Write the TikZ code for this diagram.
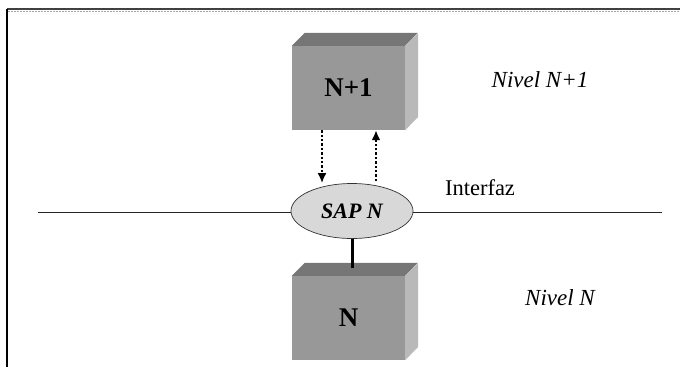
\documentclass[tikz,border=0pt]{standalone}
\usepackage{fontspec}
\setmainfont{Liberation Serif}
\usetikzlibrary{shapes.geometric,arrows.meta}
\definecolor{frontgray}{RGB}{152,152,152}
\definecolor{topgray}{RGB}{118,118,118}
\definecolor{sidegray}{RGB}{185,185,185}
\definecolor{sapgray}{RGB}{216,216,216}
\tikzset{
  front/.style={rectangle, fill=frontgray, minimum width=113pt, minimum height=84pt, inner sep=0pt, font=\fontsize{27}{29}\selectfont\bfseries},
  sapnode/.style={ellipse, draw=black!80, line width=0.7pt, fill=sapgray, minimum width=122pt, minimum height=55pt, inner sep=0pt, font=\fontsize{22}{24}\selectfont\bfseries\itshape},
  lbl/.style={font=\fontsize{23}{25}\selectfont\itshape, inner sep=0pt},
  lblup/.style={font=\fontsize{22.5}{25}\selectfont, inner sep=0pt},
  dotarrow/.style={line width=2.6pt, dash pattern=on 2.4pt off 2pt, -{Latex[length=10pt,width=9pt]}},
  topface/.style={fill=topgray},
  sideface/.style={fill=sidegray}
}
\begin{document}
\begin{tikzpicture}[x=1pt,y=-1pt]
\useasboundingbox (0,0) rectangle (680,367);
% frame
\draw[black!75, line width=1.4pt] (7,9) -- (680,9);
\draw[black!35, line width=1.2pt, dash pattern=on 1.5pt off 1.5pt] (8,11.5) -- (680,11.5);
\draw[black, line width=1.6pt] (7,9) -- (7,367);
% interface line
\coordinate (L) at (38,212);
\coordinate (R) at (662,212);
\draw[black!85, line width=1pt] (L) -- (R);
% upper box
\node[front] (up) at (348.5,88) {N+1};
\fill[topface] (up.north west) -- ++(13,-13) -- ++(113,0) -- (up.north east) -- cycle;
\fill[sideface] (up.north east) -- ++(13,-13) -- ++(0,84) -- (up.south east) -- cycle;
% lower box
\node[front] (down) at (348.5,318) {N};
\fill[topface] (down.north west) -- ++(13,-13) -- ++(113,0) -- (down.north east) -- cycle;
\fill[sideface] (down.north east) -- ++(13,-13) -- ++(0,84) -- (down.south east) -- cycle;
% SAP
\node[sapnode] (sap) at (352,211) {SAP N};
\coordinate (dtop) at (sap.south |- 0,268);
% connector end points
\coordinate (a1) at ([xshift=-26.5pt]up.south);
\coordinate (a2) at ([xshift=27.5pt]up.south);
\coordinate (s1) at (a1 |- sap.north);
\coordinate (s2) at ([yshift=2pt]a2 |- sap.north);
% connectors
\draw[dotarrow] (a1) -- (s1);
\draw[dotarrow] (s2) -- (a2);
\draw[line width=3pt] (sap.south) -- (dtop);
% labels
\node[lbl] (l1) at (540,80) {Nivel N+1};
\node[lblup] (l2) at (480,188) {Interfaz};
\node[lbl] (l3) at (560,298) {Nivel N};
\end{tikzpicture}
\end{document}
